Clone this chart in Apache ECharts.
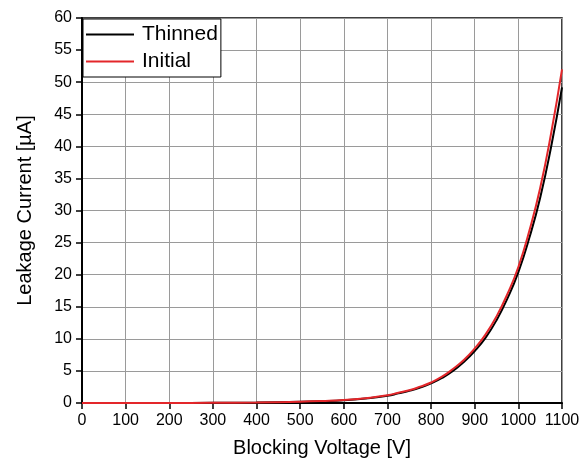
<!DOCTYPE html>
<html>
<head>
<meta charset="utf-8">
<script src="https://cdn.jsdelivr.net/npm/echarts@6/dist/echarts.min.js"></script>
<style>
  html, body { margin: 0; padding: 0; background: #fff; }
  #main { width: 587px; height: 464px; }
</style>
</head>
<body>
<div id="main"></div>
<script>
// 数据
var voltage = [0, 100, 200, 300, 400, 500, 550, 600, 650, 700, 725, 750, 775, 800, 825, 850, 875, 900, 925, 950, 975, 1000, 1025, 1050, 1075, 1100];
var thinned = [0, 0, 0.01, 0.03, 0.08, 0.19, 0.28, 0.42, 0.7, 1.12, 1.5, 1.9, 2.4, 3.05, 3.9, 5.0, 6.4, 8.1, 10.2, 12.9, 16.3, 20.4, 25.7, 32.0, 39.9, 49.2];
var initial = [0, 0, 0.01, 0.03, 0.08, 0.2, 0.3, 0.45, 0.75, 1.2, 1.6, 2.0, 2.55, 3.2, 4.1, 5.3, 6.7, 8.5, 10.7, 13.5, 17.0, 21.2, 26.8, 33.5, 42.0, 52.0];

function pairs(xs, ys) {
    var out = [];
    for (var i = 0; i < xs.length; i++) {
        out.push([xs[i], ys[i]]);
    }
    return out;
}

var myChart = echarts.init(document.getElementById('main'));

var labelFont = {
    color: '#000',
    fontFamily: 'Liberation Sans',
    fontSize: 16,
    formatter: function (v) { return String(v); }
};

var option = {
    animation: false,
    textStyle: { fontFamily: 'Liberation Sans' },
    grid: {
        left: 82,
        right: 25,
        top: 18,
        bottom: 61,
        show: true,
        borderColor: '#000',
        borderWidth: 1.5
    },
    legend: {
        orient: 'vertical',
        left: 83,
        top: 19,
        padding: [5, 3, 5, 3],
        itemGap: 6,
        itemWidth: 48,
        itemHeight: 2,
        icon: 'rect',
        backgroundColor: '#fff',
        borderColor: '#000',
        borderWidth: 1,
        textStyle: {
            color: '#000',
            fontFamily: 'Liberation Sans',
            fontSize: 21,
            padding: [0, 0, 0, 3]
        },
        data: ['Thinned', 'Initial']
    },
    xAxis: {
        type: 'value',
        min: 0,
        max: 1100,
        interval: 100,
        name: 'Blocking Voltage [V]',
        nameLocation: 'middle',
        nameGap: 35,
        nameTextStyle: { color: '#000', fontFamily: 'Liberation Sans', fontSize: 20 },
        axisLine: { lineStyle: { color: '#000', width: 2 } },
        axisTick: { length: 6, lineStyle: { color: '#000', width: 1.5 } },
        axisLabel: Object.assign({ margin: 10 }, labelFont),
        splitLine: { show: true, lineStyle: { color: '#9a9a9a', width: 1 } }
    },
    yAxis: {
        type: 'value',
        min: 0,
        max: 60,
        interval: 5,
        name: 'Leakage Current [µA]',
        nameLocation: 'middle',
        nameGap: 47,
        nameTextStyle: { color: '#000', fontFamily: 'Liberation Sans', fontSize: 20 },
        axisLine: { show: true, lineStyle: { color: '#000', width: 2 } },
        axisTick: { show: true, length: 6, lineStyle: { color: '#000', width: 1.5 } },
        axisLabel: Object.assign({ margin: 10 }, labelFont),
        splitLine: { show: true, lineStyle: { color: '#9a9a9a', width: 1 } }
    },
    series: [
        {
            name: 'Thinned',
            type: 'line',
            smooth: true,
            symbol: 'none',
            color: '#000',
            lineStyle: { color: '#000', width: 2 },
            data: pairs(voltage, thinned)
        },
        {
            name: 'Initial',
            type: 'line',
            smooth: true,
            symbol: 'none',
            color: '#e3262a',
            lineStyle: { color: '#e3262a', width: 2 },
            data: pairs(voltage, initial)
        }
    ]
};

myChart.setOption(option);
</script>
</body>
</html>
